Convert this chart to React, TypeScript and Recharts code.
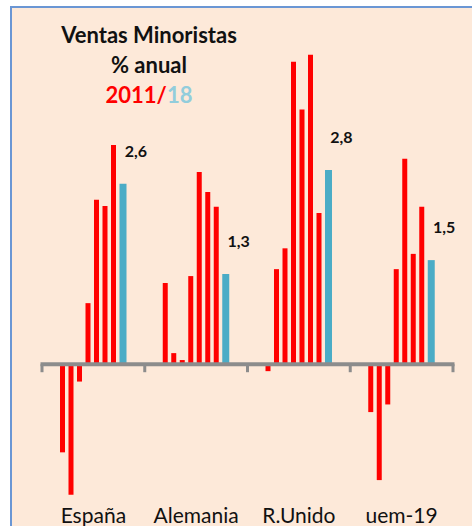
import { BarChart, Bar, XAxis, YAxis, ReferenceLine, LabelList } from "recharts";

const categories = ["España", "Alemania", "R.Unido", "uem-19"];
const y2011 = [-1.27, 1.17, -0.1, -0.69];
const y2012 = [-1.88, 0.16, 1.37, -1.67];
const y2013 = [-0.25, 0.06, 1.67, -0.58];
const y2014 = [0.88, 1.27, 4.36, 1.37];
const y2015 = [2.37, 2.77, 3.67, 2.96];
const y2016 = [2.28, 2.48, 4.46, 1.59];
const y2017 = [3.16, 2.27, 2.18, 2.27];
const y2018 = [2.6, 1.3, 2.8, 1.5];

const redKeys = ["y2011", "y2012", "y2013", "y2014", "y2015", "y2016", "y2017"];

const data = categories.map((name, i) => ({
  name,
  y2011: y2011[i],
  y2012: y2012[i],
  y2013: y2013[i],
  y2014: y2014[i],
  y2015: y2015[i],
  y2016: y2016[i],
  y2017: y2017[i],
  y2018: y2018[i],
}));

const FONT = "Lato, 'Open Sans', sans-serif";
const RED = "#ff0000";
const BLUE = "#4bacc6";

// zero line with tick marks on the category borders
function ZeroAxis(props: any) {
  const { x1, x2, y1 } = props;
  const n = categories.length;
  const step = (x2 - x1) / n;
  const ticks = [];
  for (let i = 0; i <= n; i++) {
    const tx = x1 + i * step;
    ticks.push(
      <rect key={i} x={tx - 1.5} y={y1} width={3} height={8} fill="#8c8c8c" />
    );
  }
  return (
    <g>
      <line x1={x1 - 1.5} x2={x2 + 1.5} y1={y1} y2={y1} stroke="#8c8c8c" strokeWidth={4} />
      {ticks}
    </g>
  );
}

function CatTick({ x, y, payload }: any) {
  return (
    <text x={x} y={y} dy={20} textAnchor="middle" fontFamily={FONT} fontSize={21} fill="#111">
      {payload.value}
    </text>
  );
}

function ValueLabel({ x, y, width, value }: any) {
  return (
    <text
      x={x + width / 2 + 13}
      y={y - 31}
      dominantBaseline="middle"
      textAnchor="middle"
      fontFamily={FONT}
      fontWeight="bold"
      fontSize={16}
      fill="#111"
    >
      {Number(value).toFixed(1).replace(".", ",")}
    </text>
  );
}

export default function App() {
  return (
    <div style={{ position: "absolute", left: 0, top: 0, width: 472, height: 526, overflow: "hidden", background: "#fff" }}>
      <div
        style={{
          position: "absolute",
          left: 10,
          top: 6,
          width: 480,
          height: 540,
          border: "2px solid #6a96d4",
          background: "#fde9d9",
        }}
      />
      <div
        style={{
          position: "absolute",
          left: 29,
          top: 20,
          width: 240,
          textAlign: "center",
          fontFamily: FONT,
          fontWeight: "bold",
          fontSize: 22,
          lineHeight: "30px",
          color: "#111",
        }}
      >
        <div>Ventas Minoristas</div>
        <div>% anual</div>
        <div>
          <span style={{ color: RED }}>2011/</span>
          <span style={{ color: "#92cddc" }}>18</span>
        </div>
      </div>
      <div style={{ position: "absolute", left: 0, top: 0 }}>
        <BarChart
          width={472}
          height={526}
          data={data}
          margin={{ top: 45, right: 19, bottom: 0, left: 42 }}
          barGap={3.5}
        >
          <XAxis
            dataKey="name"
            axisLine={false}
            tickLine={false}
            tickSize={0}
            tickMargin={0}
            height={23}
            tick={<CatTick />}
            interval={0}
          />
          <YAxis hide domain={[-2, 4.6]} />
          <ReferenceLine y={0} shape={(p: any) => <ZeroAxis {...p} />} />
          {redKeys.map((k) => (
            <Bar key={k} dataKey={k} fill={RED} barSize={5} isAnimationActive={false} />
          ))}
          <Bar dataKey="y2018" fill={BLUE} barSize={7} isAnimationActive={false}>
            <LabelList dataKey="y2018" content={<ValueLabel />} />
          </Bar>
        </BarChart>
      </div>
    </div>
  );
}
